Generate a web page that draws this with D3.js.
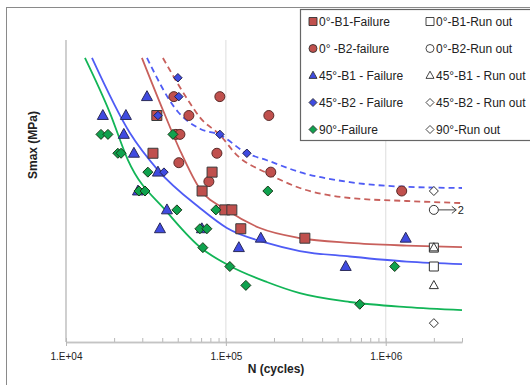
<!DOCTYPE html>
<html>
<head>
<meta charset="utf-8">
<script src="https://cdn.jsdelivr.net/npm/d3@7/dist/d3.min.js"></script>
<style>
  html, body { margin: 0; padding: 0; background: #fff; }
  svg { display: block; font-family: "Liberation Sans", Arial, sans-serif; }
</style>
</head>
<body>
<svg id="chart" width="530" height="385"></svg>
<script>
// ---- Data: [N cycles, Smax] ----
const runOutN = 2.0e6;

const fail0B1 = [[37000,120],[35000,100],[82000,90],[71000,80],[98500,70],[109000,70],[124000,60],[312000,55]];
const fail0B2 = [[47300,130],[91700,130],[58700,120],[48700,110],[51600,110],[87900,100],[50800,95],[78300,85],[185700,120],[191000,90],[1259000,80]];
const fail45B1 = [[32100,130],[17000,120],[23700,120],[23000,110],[26600,100],[37600,90],[28200,80],[42800,70],[38700,60],[70800,60],[120600,50],[165500,55],[562000,40],[1334000,55]];
const fail45B2 = [[50100,140],[50800,130],[37600,120],[91700,110],[135300,100],[41000,90]];
const fail90 = [[16550,110],[18300,110],[21100,100],[22100,100],[32500,90],[28600,80],[31200,80],[46650,110],[49400,70],[68800,60],[76100,60],[71800,50],[86600,70],[183000,80],[105900,40],[133400,30],[1138000,40],[688000,20]];

const runOut0B1 = [[runOutN,50],[runOutN,40]];
const runOut0B2 = [[runOutN,70]];
const runOut45B1 = [[runOutN,50],[runOutN,30]];
const runOut45B2 = [[runOutN,80]];
const runOut90 = [[runOutN,10]];
const runOut0B2Count = "2";

// Fitted S-N curves
const fit0B1 = [[29850,150.5],[40380,122.9],[51560,101.7],[68780,81.1],[101450,69.9],[163100,60.4],[290100,55.1],[595700,52.5],[1352000,51.1],[3000000,50.3]];
const fit0B2 = [[40380,150.5],[59570,126.6],[68780,119],[91730,109.7],[117200,99],[180400,89.5],[290100,81.6],[595700,76.3],[1352000,74.7],[3000000,73.6]];
const fit45B1 = [[14540,150.5],[25120,110.7],[37580,91.1],[68780,71.0],[101450,60.4],[180400,52.5],[290100,48.2],[595700,45.3],[1352000,42.6],[3000000,41.3]];
const fit45B2 = [[32100,150.5],[50100,122],[68780,113],[91730,109.7],[135300,100],[180400,96.3],[290100,90],[595700,84.7],[1352000,82.2],[3000000,81.6]];
const fit90 = [[13140,150.5],[18840,121.3],[24410,96.4],[42780,68.9],[68780,50.3],[105900,40.3],[180500,31.8],[290100,25.9],[595700,21.2],[1352000,18.5],[3000000,16.9]];

const xTickValues = [1e4, 1e5, 1e6];
const xTickLabels = ["1.E+04", "1.E+05", "1.E+06"];
const xTitle = "N (cycles)";
const yTitle = "Smax (MPa)";

const legendItems = [
  {label: "0°-B1-Failure", shape: "square", fill: true, color: "red"},
  {label: "0°-B1-Run out", shape: "square", fill: false},
  {label: "0° -B2-failure", shape: "circle", fill: true, color: "red"},
  {label: "0°-B2-Run out", shape: "circle", fill: false},
  {label: "45°-B1 - Failure", shape: "triangle", fill: true, color: "blue"},
  {label: "45°-B1 - Run out", shape: "triangle", fill: false},
  {label: "45°-B2 - Failure", shape: "diamond", fill: true, color: "blue"},
  {label: "45°-B2 - Run out", shape: "diamond", fill: false},
  {label: "90°-Failure", shape: "diamond", fill: true, color: "green"},
  {label: "90°-Run out", shape: "diamond", fill: false}
];

// ---- Styles ----
const colors = { red: "#C0504D", blue: "#3F4BE0", green: "#0FA24E" };
const lineColors = { red: "#C8605C", blue: "#4F5CF5", green: "#12B557" };

const svg = d3.select("#chart");
const W = 530, H = 385;

svg.append("rect").attr("width", W).attr("height", H).attr("fill", "#fff");
// chart frame
svg.append("rect").attr("x", 6.5).attr("y", 7.5).attr("width", 600).attr("height", 450)
  .attr("fill", "none").attr("stroke", "#8a8a8a").attr("stroke-width", 1);

const x = d3.scaleLog().domain([1e4, 3e6]).range([66, 462]);
const y = d3.scaleLinear().domain([0, 160]).range([342, 40]);

// vertical gridlines
svg.append("g").selectAll("line").data([1e5, 1e6]).join("line")
  .attr("x1", d => x(d)).attr("x2", d => x(d))
  .attr("y1", y(160)).attr("y2", y(0))
  .attr("stroke", "#e3e3e3").attr("stroke-width", 1.2);

// y axis line
svg.append("line").attr("x1", x(1e4)).attr("x2", x(1e4)).attr("y1", y(160)).attr("y2", y(0))
  .attr("stroke", "#c4c4c4").attr("stroke-width", 1.6);

// x axis with log minor ticks
const minorTicks = [];
for (let e = 4; e <= 6; e++) for (let m = 2; m <= 9; m++) { const v = m * Math.pow(10, e); if (v <= 3e6) minorTicks.push(v); }
const xAxisMinor = d3.axisBottom(x).tickValues(minorTicks).tickSize(-4).tickFormat("").tickSizeOuter(0);
const gMinor = svg.append("g").attr("transform", `translate(0,${y(0)})`).call(xAxisMinor);
const xAxisMajor = d3.axisBottom(x).tickValues(xTickValues).tickSize(4).tickSizeOuter(0)
  .tickFormat((d, i) => xTickLabels[i]).tickPadding(7);
const gMajor = svg.append("g").attr("transform", `translate(0,${y(0)})`).call(xAxisMajor);
[gMinor, gMajor].forEach(g => {
  g.select(".domain").attr("stroke", "#c4c4c4").attr("stroke-width", 1.4);
  g.selectAll(".tick line").attr("stroke", "#b8b8b8");
});
gMajor.selectAll(".tick line").attr("y1", -4);
gMajor.selectAll(".tick text").attr("font-size", 10).attr("fill", "#222")
  .attr("font-family", "Liberation Sans, Arial, sans-serif");

// axis titles
svg.append("text").attr("x", 276).attr("y", 373).attr("text-anchor", "middle")
  .attr("font-size", 12).attr("font-weight", "bold").attr("fill", "#222").text(xTitle);
svg.append("text").attr("transform", "translate(37,145) rotate(-90)").attr("text-anchor", "middle")
  .attr("font-size", 12).attr("font-weight", "bold").attr("fill", "#222").text(yTitle);

// ---- Fitted curves ----
const line = d3.line().x(d => x(d[0])).y(d => y(d[1])).curve(d3.curveMonotoneX);
const curves = [
  {data: fit0B2, color: lineColors.red, dash: "6,4"},
  {data: fit45B2, color: lineColors.blue, dash: "6,4"},
  {data: fit0B1, color: lineColors.red, dash: null},
  {data: fit45B1, color: lineColors.blue, dash: null},
  {data: fit90, color: lineColors.green, dash: null}
];
svg.append("g").selectAll("path").data(curves).join("path")
  .attr("d", d => line(d.data)).attr("fill", "none")
  .attr("stroke", d => d.color).attr("stroke-width", 1.8)
  .attr("stroke-dasharray", d => d.dash);

// ---- Marker shapes ----
function shapePath(shape, s) {
  if (shape === "square") return `M${-s/2},${-s/2}h${s}v${s}h${-s}Z`;
  if (shape === "circle") return d3.arc()({innerRadius: 0, outerRadius: s/2, startAngle: 0, endAngle: 2*Math.PI});
  if (shape === "triangle") { const h = s * 0.9; return `M0,${-h*0.6}L${s/2},${h*0.4}L${-s/2},${h*0.4}Z`; }
  if (shape === "diamond") return `M0,${-s/2}L${s/2},0L0,${s/2}L${-s/2},0Z`;
}

function drawSeries(data, shape, size, fill, stroke) {
  svg.append("g").selectAll("path").data(data).join("path")
    .attr("transform", d => `translate(${x(d[0])},${y(d[1])})`)
    .attr("d", shapePath(shape, size))
    .attr("fill", fill).attr("stroke", stroke).attr("stroke-width", 1);
}

const darkEdge = "#3a3a3a";
drawSeries(fail0B2, "circle", 10, colors.red, "#5a2a28");
drawSeries(fail0B1, "square", 10, colors.red, darkEdge);
drawSeries(fail45B1, "triangle", 11, colors.blue, "#2a2a5a");
drawSeries(fail90, "diamond", 10, colors.green, "#1a3a1a");
drawSeries(fail45B2, "diamond", 8.5, colors.blue, "#202050");

drawSeries(runOut0B1, "square", 9, "#fff", "#333");
drawSeries(runOut0B2, "circle", 9, "#fff", "#333");
drawSeries(runOut45B1, "triangle", 9, "none", "#333");
drawSeries(runOut45B2, "diamond", 9, "#fff", "#333");
drawSeries(runOut90, "diamond", 9, "#fff", "#333");

// run-out count arrow
runOut0B2.forEach(d => {
  const cx = x(d[0]), cy = y(d[1]);
  svg.append("line").attr("x1", cx + 4.5).attr("x2", cx + 22).attr("y1", cy).attr("y2", cy)
    .attr("stroke", "#444").attr("stroke-width", 1);
  svg.append("path").attr("d", `M${cx+18},${cy-3.5}L${cx+22.5},${cy}L${cx+18},${cy+3.5}`)
    .attr("fill", "none").attr("stroke", "#444").attr("stroke-width", 1);
  svg.append("text").attr("x", cx + 24).attr("y", cy + 4).attr("font-size", 11).attr("fill", "#222").text(runOut0B2Count);
});

// ---- Legend ----
const lg = svg.append("g");
lg.append("rect").attr("x", 300.5).attr("y", 9.5).attr("width", 260).attr("height", 131)
  .attr("fill", "#fff").attr("stroke", "#666").attr("stroke-width", 1.2);
const rowY = i => 21.5 + Math.floor(i / 2) * 27;
const colX = i => (i % 2 === 0 ? 313 : 430);
legendItems.forEach((it, i) => {
  const g = lg.append("g").attr("transform", `translate(${colX(i)},${rowY(i)})`);
  g.append("path").attr("d", shapePath(it.shape, 8))
    .attr("fill", it.fill ? colors[it.color] : "#fff")
    .attr("stroke", "#333").attr("stroke-width", 0.9);
  g.append("text").attr("x", 6).attr("y", 4.2).attr("font-size", 12).attr("fill", "#222").text(it.label);
});
</script>
</body>
</html>
